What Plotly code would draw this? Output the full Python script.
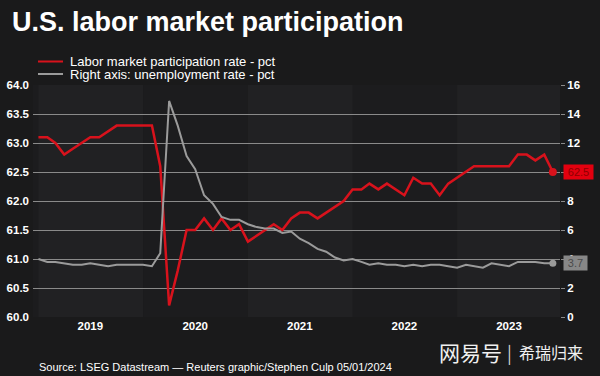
import pandas as pd
import plotly.graph_objects as go

# ---------------- data ----------------
start_month = "2019-01-01"
lfpr = [63.1, 63.1, 63.0, 62.8, 62.9, 63.0, 63.1, 63.1, 63.2, 63.3, 63.3, 63.3,
        63.3, 63.3, 62.6, 60.2, 60.8, 61.5, 61.5, 61.7, 61.5, 61.7, 61.5, 61.6,
        61.3, 61.4, 61.5, 61.6, 61.5, 61.7, 61.8, 61.8, 61.7, 61.8, 61.9, 62.0,
        62.2, 62.2, 62.3, 62.2, 62.3, 62.2, 62.1, 62.4, 62.3, 62.3, 62.1, 62.3,
        62.4, 62.5, 62.6, 62.6, 62.6, 62.6, 62.6, 62.8, 62.8, 62.7, 62.8, 62.5]
unemp = [4.0, 3.8, 3.8, 3.7, 3.6, 3.6, 3.7, 3.6, 3.5, 3.6, 3.6, 3.6,
         3.6, 3.5, 4.4, 14.9, 13.2, 11.1, 10.2, 8.4, 7.8, 6.9, 6.7, 6.7,
         6.4, 6.2, 6.1, 6.1, 5.8, 5.9, 5.4, 5.1, 4.7, 4.5, 4.1, 3.9,
         4.0, 3.8, 3.6, 3.7, 3.6, 3.6, 3.5, 3.6, 3.5, 3.6, 3.6, 3.5,
         3.4, 3.6, 3.5, 3.4, 3.7, 3.6, 3.5, 3.8, 3.8, 3.8, 3.7, 3.7]
year_labels = ["2019", "2020", "2021", "2022", "2023"]
left_ticks = [60.0, 60.5, 61.0, 61.5, 62.0, 62.5, 63.0, 63.5, 64.0]
right_ticks = [0, 2, 4, 6, 8, 10, 12, 14, 16]
title_text = "U.S. labor market participation"
legend_labels = ["Labor market participation rate - pct",
                 "Right axis: unemployment rate - pct"]
source_text = "Source: LSEG Datastream \u2014 Reuters graphic/Stephen Culp 05/01/2024"
watermark_a = "网易号"
watermark_b = "希瑞归来"

dates = pd.date_range(start_month, periods=len(lfpr), freq="MS")

# ---------------- style ----------------
W, H = 600, 376
L, R, T, B = 33, 40, 85, 59
PW, PH = W - L - R, H - T - B
RED = "#d8121c"
GRAY = "#9b9b9b"
PAPER = "#1a1a1b"
PLOT = "#1c1c1e"
BAND = "#212123"
GRID = "#8a8a8a"
FONT = "Liberation Sans, Arial, sans-serif"


def px_x(p):
    return (p - L) / PW


def px_y(p):
    return (H - B - p) / PH


fig = go.Figure()
fig.add_trace(go.Scatter(x=dates, y=unemp, mode="lines", yaxis="y2",
                         line=dict(color=GRAY, width=2), name=legend_labels[1]))
fig.add_trace(go.Scatter(x=dates, y=lfpr, mode="lines", yaxis="y",
                         line=dict(color=RED, width=2.5), name=legend_labels[0]))
fig.add_trace(go.Scatter(x=[dates[-1]], y=[unemp[-1]], mode="markers", yaxis="y2",
                         marker=dict(color=GRAY, size=7)))
fig.add_trace(go.Scatter(x=[dates[-1]], y=[lfpr[-1]], mode="markers", yaxis="y",
                         marker=dict(color=RED, size=8)))

shapes = []
# alternating year bands
for i, yl in enumerate(year_labels):
    if i % 2 == 0:
        y0 = int(yl)
        shapes.append(dict(type="rect", xref="x", yref="paper",
                           x0=f"{y0}-01-01", x1=f"{y0 + 1}-01-01", y0=0, y1=1,
                           fillcolor=BAND, line=dict(width=0), layer="below"))
# legend swatches
legend_rows = [61.5, 74]
for c, ry in zip([RED, GRAY], legend_rows):
    yy = px_y(ry)
    shapes.append(dict(type="line", xref="paper", yref="paper",
                       x0=px_x(38), x1=px_x(63), y0=yy, y1=yy,
                       line=dict(color=c, width=2)))

annotations = []
for lab, ry in zip(legend_labels, legend_rows):
    annotations.append(dict(text=lab, xref="paper", yref="paper",
                            x=px_x(68), y=px_y(ry), xanchor="left",
                            yanchor="middle", showarrow=False,
                            font=dict(family=FONT, size=13, color="#ffffff")))
annotations.append(dict(text=source_text, xref="paper", yref="paper",
                        x=px_x(37), y=px_y(367), xanchor="left", yanchor="middle",
                        showarrow=False,
                        font=dict(family=FONT, size=11, color="#ffffff")))
# end value labels
annotations.append(dict(text=f"{lfpr[-1]:.1f}", xref="paper", yref="y",
                        x=px_x(563), y=lfpr[-1], xanchor="left", yanchor="middle",
                        showarrow=False, bgcolor="#e3000f", width=29, height=14,
                        borderpad=0,
                        font=dict(family=FONT, size=11, color="#8e0000")))
annotations.append(dict(text=f"{unemp[-1]:.1f}", xref="paper", yref="y2",
                        x=px_x(563), y=unemp[-1], xanchor="left", yanchor="middle",
                        showarrow=False, bgcolor="#878787", width=23, height=14,
                        borderpad=0,
                        font=dict(family=FONT, size=11, color="#4a4a4a")))
# watermark
annotations.append(dict(text=watermark_a, xref="paper", yref="paper",
                        x=px_x(437), y=px_y(352), xanchor="left", yanchor="middle",
                        showarrow=False,
                        font=dict(family="Noto Sans CJK SC", size=21, color="#f0f0f0")))
annotations.append(dict(text="|", xref="paper", yref="paper",
                        x=px_x(509), y=px_y(352), xanchor="center", yanchor="middle",
                        showarrow=False,
                        font=dict(family="Noto Sans CJK SC", size=18, color="#d0d0d0")))
annotations.append(dict(text=watermark_b, xref="paper", yref="paper",
                        x=px_x(517), y=px_y(352), xanchor="left", yanchor="middle",
                        showarrow=False,
                        font=dict(family="Noto Sans CJK SC", size=16, color="#f0f0f0")))

fig.update_layout(
    width=W, height=H,
    margin=dict(l=L, r=R, t=T, b=B, pad=0, autoexpand=False),
    paper_bgcolor=PAPER, plot_bgcolor=PLOT,
    showlegend=False,
    title=dict(text=f"<b>{title_text}</b>", x=12 / W, xanchor="left",
               y=1 - 22 / H, yanchor="middle", yref="container",
               font=dict(family=FONT, size=27, color="#ffffff")),
    xaxis=dict(type="date", range=["2018-12-13", "2023-12-26"], automargin=False,
               tickvals=[f"{y}-07-01" for y in year_labels], ticktext=year_labels,
               showgrid=False, zeroline=False, showline=False, ticks="",
               tickfont=dict(family=FONT, size=11.5, color="#ffffff", weight="bold")),
    yaxis=dict(range=[60, 64], tickvals=left_ticks, tickformat=".1f", automargin=False,
               showgrid=True, gridcolor=GRID, gridwidth=1, zeroline=False,
               showline=False, ticks="", ticklabelstandoff=3,
               tickfont=dict(family=FONT, size=11.5, color="#ffffff", weight="bold")),
    yaxis2=dict(range=[0, 16], tickvals=right_ticks, overlaying="y", side="right",
                automargin=False,
                showgrid=False, zeroline=False, showline=False,
                ticks="outside", ticklen=4, tickcolor=GRID,
                tickfont=dict(family=FONT, size=11.5, color="#ffffff", weight="bold")),
    shapes=shapes,
    annotations=annotations,
)

fig.write_html(
    "out.html",
    config={"displayModeBar": False},
    post_script=("document.body.style.margin='0px';"
                 "document.body.style.background='" + PAPER + "';"),
)
